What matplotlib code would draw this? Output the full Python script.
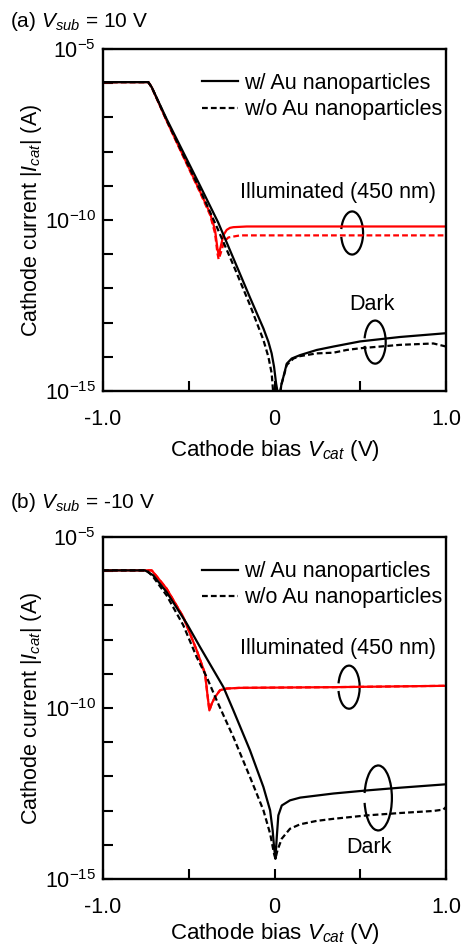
import numpy as np
import matplotlib
matplotlib.use('Agg')
import matplotlib.pyplot as plt
from matplotlib.patches import Arc

plt.rcParams['font.family'] = ['Liberation Sans', 'DejaVu Sans']
plt.rcParams['mathtext.fontset'] = 'custom'
plt.rcParams['mathtext.rm'] = 'Liberation Sans'
plt.rcParams['mathtext.it'] = 'Liberation Sans:italic'

# ---- panel (a): Vsub = 10 V  (log10 of |I| in A)
a_dark_w_v = [-1.0, -0.736, -0.716, -0.629, -0.532, -0.434, -0.328, -0.240, -0.143, -0.065,
              -0.036, -0.017, -0.003, 0.009, 0.020, 0.032, 0.040, 0.052, 0.071, 0.100, 0.149,
              0.246, 0.343, 0.499, 0.732, 1.0]
a_dark_w_i = [-5.97, -5.97, -6.12, -7.05, -8.02, -9.00, -10.08, -11.12, -12.27, -13.17,
              -13.56, -13.90, -14.29, -14.78, -15.1, -15.1, -14.8, -14.58, -14.20, -14.05, -13.95,
              -13.80, -13.70, -13.55, -13.42, -13.31]
a_dark_wo_v = [-1.0, -0.736, -0.716, -0.629, -0.532, -0.434, -0.337, -0.240, -0.143, -0.065,
               -0.036, -0.017, -0.007, 0.010, 0.030, 0.042, 0.071, 0.110, 0.149, 0.246, 0.343,
               0.420, 0.499, 0.732, 0.926, 1.0]
a_dark_wo_i = [-5.97, -5.97, -6.12, -7.08, -8.10, -9.12, -10.20, -11.32, -12.49, -13.51,
               -14.0, -14.48, -15.1, -15.1, -15.1, -14.78, -14.24, -14.05, -13.98, -13.90, -13.88,
               -13.80, -13.75, -13.65, -13.61, -13.70]
a_ill_w_v = [-1.0, -0.736, -0.716, -0.629, -0.532, -0.434, -0.376, -0.347, -0.333, -0.326,
             -0.314, -0.298, -0.279, -0.260, -0.240, -0.162, 1.0]
a_ill_w_i = [-5.97, -5.97, -6.12, -7.10, -8.13, -9.17, -9.80, -10.29, -10.83, -11.02,
             -10.78, -10.44, -10.29, -10.23, -10.21, -10.19, -10.19]
a_ill_wo_v = [-1.0, -0.736, -0.716, -0.629, -0.532, -0.434, -0.376, -0.347, -0.333, -0.326,
              -0.314, -0.294, -0.269, -0.201, 1.0]
a_ill_wo_i = [-5.97, -5.97, -6.12, -7.10, -8.15, -9.20, -9.85, -10.39, -10.97, -11.15,
              -10.97, -10.63, -10.51, -10.45, -10.45]

# ---- panel (b): Vsub = -10 V
b_dark_w_v = [-1.0, -0.755, -0.707, -0.629, -0.512, -0.434, -0.298, -0.240, -0.143, -0.065,
              -0.026, -0.011, -0.003, 0.005, 0.013, 0.022, 0.042, 0.090, 0.149, 0.343, 0.537,
              0.732, 1.0]
b_dark_w_i = [-5.975, -5.975, -6.12, -6.61, -7.53, -8.22, -9.39, -10.07, -11.24, -12.31,
              -12.99, -13.58, -14.06, -14.41, -13.77, -13.14, -12.85, -12.70, -12.62, -12.50, -12.41,
              -12.33, -12.23]
b_dark_wo_v = [-1.0, -0.745, -0.707, -0.629, -0.532, -0.454, -0.396, -0.337, -0.240, -0.143,
               -0.065, -0.026, -0.003, 0.005, 0.017, 0.042, 0.090, 0.149, 0.246, 0.343, 0.537,
               0.732, 0.926, 0.984, 1.0]
b_dark_wo_i = [-5.975, -5.975, -6.17, -6.71, -7.58, -8.51, -9.09, -9.78, -10.85, -12.02,
               -12.99, -13.67, -14.26, -14.41, -14.16, -13.82, -13.53, -13.40, -13.30, -13.24, -13.14,
               -13.07, -13.01, -12.97, -12.89]
b_ill_v = [-1.0, -0.716, -0.687, -0.629, -0.532, -0.454, -0.405, -0.392, -0.380, -0.366,
           -0.347, -0.318, -0.279, -0.201, 0.343, 1.0]
b_ill_i = [-5.975, -5.975, -6.15, -6.51, -7.34, -8.31, -9.00, -9.58, -10.07, -9.87,
           -9.68, -9.48, -9.43, -9.41, -9.39, -9.35]

panels = [
    dict(ax=[0.2225, 0.5871, 0.741, 0.3612], title='(a) $V_{sub}$ = 10 V', ty=0.9768,
         dw=(a_dark_w_v, a_dark_w_i), dwo=(a_dark_wo_v, a_dark_wo_i),
         iw=(a_ill_w_v, a_ill_w_i), iwo=(a_ill_wo_v, a_ill_wo_i), xpad=6,
         ill_txt=(0.686, 0.579), ill_arc=(0.726, 0.462, 0.064, 0.126),
         dark_txt=(0.784, 0.254), dark_arc=(0.793, 0.143, 0.062, 0.126)),
    dict(ax=[0.2225, 0.0718, 0.741, 0.3611], title='(b) $V_{sub}$ = -10 V', ty=0.4689,
         dw=(b_dark_w_v, b_dark_w_i), dwo=(b_dark_wo_v, b_dark_wo_i),
         iw=(b_ill_v, b_ill_i), iwo=(b_ill_v, b_ill_i), xpad=2,
         ill_txt=(0.686, 0.675), ill_arc=(0.717, 0.561, 0.062, 0.126),
         dark_txt=(0.776, 0.091), dark_arc=(0.802, 0.237, 0.08, 0.19)),
]

dash = (0, (2.6, 1.4))
lw = 1.6
fs = 15.5

fig = plt.figure(figsize=(4.63, 9.47), dpi=100)
for p in panels:
    ax = fig.add_axes(p['ax'])
    ax.plot(p['iw'][0], 10.0 ** np.array(p['iw'][1]), color='#ff0000', lw=lw)
    ax.plot(p['iwo'][0], 10.0 ** np.array(p['iwo'][1]), color='#ff0000', lw=lw, ls=dash)
    ax.plot(p['dw'][0], 10.0 ** np.array(p['dw'][1]), color='black', lw=lw,
            label='w/ Au nanoparticles')
    ax.plot(p['dwo'][0], 10.0 ** np.array(p['dwo'][1]), color='black', lw=lw, ls=dash,
            label='w/o Au nanoparticles')
    ax.set_yscale('log')
    ax.set_xlim(-1, 1)
    ax.set_ylim(1e-15, 1e-5)
    ax.set_yticks([10.0 ** k for k in range(-15, -4)])
    ax.set_yticklabels([r'$\mathregular{10^{%d}}$' % k if k in (-15, -10, -5) else ''
                        for k in range(-15, -4)])
    ax.minorticks_off()
    ax.set_xticks([-1, -0.5, 0, 0.5, 1])
    ax.set_xticklabels(['-1.0', '', '0', '', '1.0'])
    ax.tick_params(direction='in', length=7, width=1.5, labelsize=15.5)
    ax.tick_params(axis='x', pad=13)
    ax.tick_params(axis='y', pad=5)
    for s in ax.spines.values():
        s.set_linewidth(1.7)
    ax.set_xlabel('Cathode bias $V_{cat}$ (V)', fontsize=16, labelpad=p['xpad'])
    ax.set_ylabel('Cathode current |$I_{cat}$| (A)', fontsize=15.5, labelpad=1)
    ax.legend(loc='upper right', bbox_to_anchor=(1.015, 0.955), frameon=False, fontsize=fs,
              handlelength=1.65, handletextpad=0.3, labelspacing=0.25, borderaxespad=0)
    ax.text(*p['ill_txt'], 'Illuminated (450 nm)', transform=ax.transAxes, fontsize=fs,
            ha='center', va='center')
    ax.text(*p['dark_txt'], 'Dark', transform=ax.transAxes, fontsize=fs,
            ha='center', va='center')
    for arc in (p['ill_arc'], p['dark_arc']):
        ax.add_patch(Arc(arc[:2], arc[2], arc[3], theta1=-160, theta2=160,
                         transform=ax.transAxes, color='black', lw=lw))
    fig.text(0.0216, p['ty'], p['title'], fontsize=15, ha='left', va='center')

fig.savefig('out.png', dpi=100)
